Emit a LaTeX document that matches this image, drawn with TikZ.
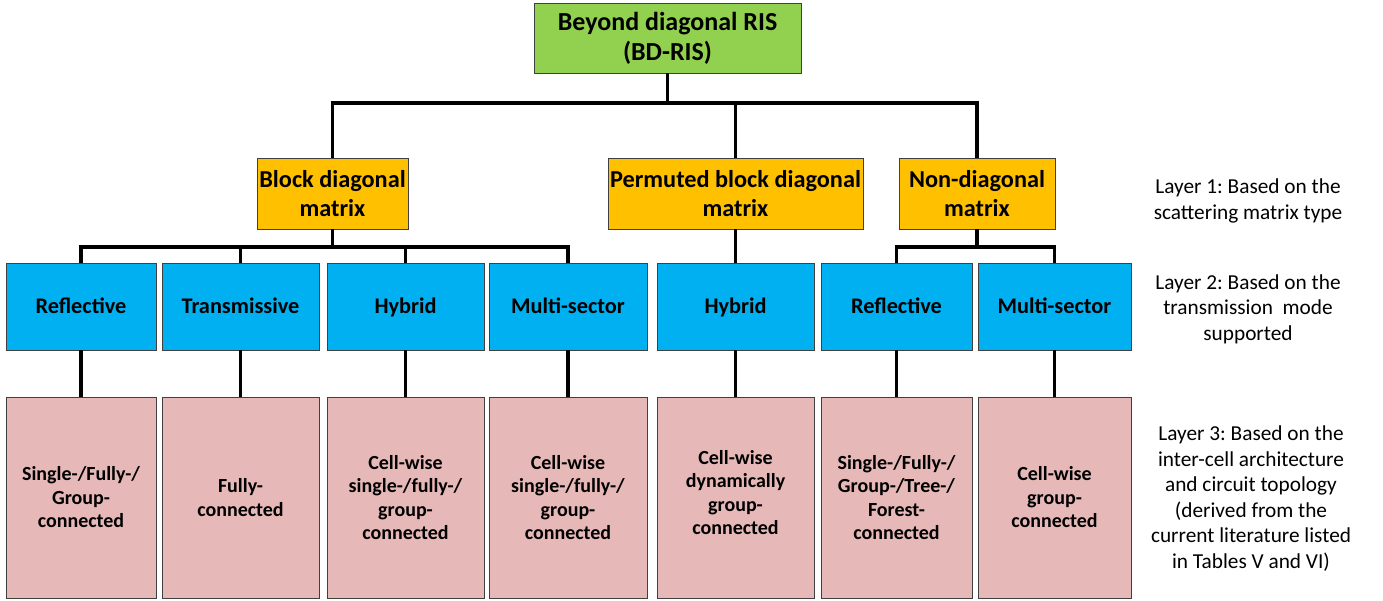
\documentclass[tikz,border=0pt]{standalone}
\usepackage{fontspec}
\setmainfont{Carlito}
\frenchspacing

\definecolor{rootgreen}{HTML}{92D050}
\definecolor{layerone}{HTML}{FFC000}
\definecolor{layertwo}{HTML}{00B0F0}
\definecolor{layerthree}{HTML}{E6B8B7}
\definecolor{edgegray}{HTML}{404040}

\tikzset{
  box/.style={rectangle, draw=edgegray, line width=0.9pt, align=center, inner sep=0pt},
  rootbox/.style={box, fill=rootgreen, minimum width=267pt, minimum height=70pt,
    font=\bfseries\fontsize{26}{30}\selectfont},
  matbox/.style={box, fill=layerone, minimum height=71pt,
    font=\bfseries\fontsize{24.3}{29}\selectfont},
  modebox/.style={box, align=none, fill=layertwo, minimum height=87pt,
    text height=16pt, text depth=2pt,
    font=\bfseries\fontsize{22.3}{26}\selectfont},
  topobox/.style={box, fill=layerthree, minimum height=201pt,
    font=\bfseries\fontsize{20}{23.5}\selectfont},
  note/.style={align=center, inner sep=0pt, font=\fontsize{21.3}{25.5}\selectfont},
  conn/.style={draw=black, line width=3.6pt}
}

\begin{document}
\begin{tikzpicture}[x=1pt, y=-1pt]
  \useasboundingbox (0,0) rectangle (1383,601);

  % root
  \node[rootbox] (root) at (667.5,38) {Beyond diagonal RIS\\(BD-RIS)};

  % layer 1: scattering matrix type
  \node[matbox, minimum width=151pt] (l1a) at (332.5,193.5) {Block diagonal\\matrix};
  \node[matbox, minimum width=255pt] (l1b) at (735.5,193.5) {Permuted block diagonal\\matrix};
  \node[matbox, minimum width=156pt] (l1c) at (977,193.5) {Non-diagonal\\matrix};

  % layer 2: transmission mode
  \node[modebox, minimum width=150pt] (b1) at (81,306.5)    {Reflective};
  \node[modebox, minimum width=157pt] (b2) at (240.5,306.5) {Transmissive};
  \node[modebox, minimum width=157pt] (b3) at (405.5,306.5) {Hybrid};
  \node[modebox, minimum width=158pt] (b4) at (568,306.5)   {Multi-sector};
  \node[modebox, minimum width=157pt] (b5) at (735.5,306.5) {Hybrid};
  \node[modebox, minimum width=151pt] (b6) at (896.5,306.5) {Reflective};
  \node[modebox, minimum width=153pt] (b7) at (1054.5,306.5){Multi-sector};

  % layer 3: inter-cell architecture
  \node[topobox, minimum width=150pt] (p1) at (81,497.5)    {Single-/Fully-/\\Group-\\connected};
  \node[topobox, minimum width=157pt] (p2) at (240.5,497.5) {Fully-\\connected};
  \node[topobox, minimum width=157pt] (p3) at (405.5,497.5) {Cell-wise\\single-/fully-/\\group-\\connected};
  \node[topobox, minimum width=158pt] (p4) at (568,497.5)   {Cell-wise\\single-/fully-/\\group-\\connected};
  \node[topobox, align=none, minimum width=157pt] (p5) at (735.5,497.5)
    {\raisebox{2.5pt}[\height][\depth]{\begin{tabular}{@{}c@{}}Cell-wise\\dynamically\\group-\\connected\end{tabular}}};
  \node[topobox, minimum width=151pt] (p6) at (896.5,497.5) {Single-/Fully-/\\Group-/Tree-/\\Forest-\\connected};
  \node[topobox, minimum width=153pt] (p7) at (1054.5,497.5){Cell-wise\\group-\\connected};

  % layer descriptions
  \node[note] (n1) at (1248,201)   {Layer 1: Based on the\\scattering matrix type};
  \node[note] (n2) at (1248,309)   {Layer 2: Based on the\\transmission~~mode\\supported};
  \node[note] (n3) at (1251,498.5) {Layer 3: Based on the\\inter-cell architecture\\and circuit topology\\(derived from the\\current literature listed\\in Tables V and VI)};

  % bus levels
  \coordinate (bus1) at (0,103);
  \coordinate (bus2) at (0,247);

  % connectors
  \foreach \c in {l1a,l1b,l1c}
    \draw[conn] (root.south) -- (root.south |- bus1) -| (\c.north);
  \foreach \c in {b1,b2,b3,b4}
    \draw[conn] (l1a.south) -- (l1a.south |- bus2) -| (\c.north);
  \draw[conn] (l1b.south) -- (b5.north);
  \foreach \c in {b6,b7}
    \draw[conn] (l1c.south) -- (l1c.south |- bus2) -| (\c.north);
  \foreach \i in {1,...,7}
    \draw[conn] (b\i.south) -- (p\i.north);
\end{tikzpicture}
\end{document}
